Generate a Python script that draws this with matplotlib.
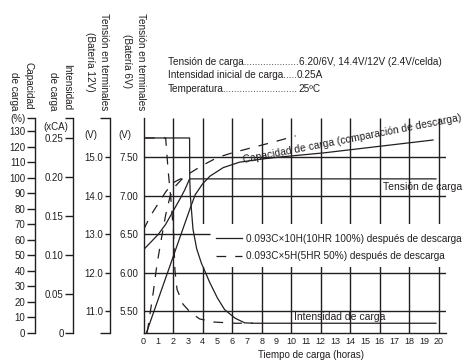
import matplotlib
matplotlib.use("Agg")
import matplotlib.pyplot as plt
from matplotlib.lines import Line2D
from matplotlib.patches import Rectangle

plt.rcParams['font.family'] = ['Liberation Sans', 'DejaVu Sans']
plt.rcParams['lines.scale_dashes'] = False

INK = '#231f20'
DASH = (0, (7, 6.5))

# ejes
horas = list(range(0, 21))
cap_ticks = [0, 10, 20, 30, 40, 50, 60, 70, 80, 90, 100, 110, 120, 130]
cur_ticks = [0, 0.05, 0.10, 0.15, 0.20, 0.25]
cur_labels = ['0', '0.05', '0.10', '0.15', '0.20', '0.25']
v12_ticks = [11.0, 12.0, 13.0, 14.0, 15.0]
v6_ticks = [5.50, 6.00, 6.50, 7.00, 7.50]

# 100% descarga (linea continua)
t_v100 = [0, 0.5, 1.0, 1.5, 2.0, 2.5, 2.8, 3.12, 19.8]
v_100 = [6.30, 6.40, 6.50, 6.63, 6.80, 6.97, 7.08, 7.22, 7.22]
t_i100 = [0.1, 3.12, 3.13, 3.17, 3.35, 3.6, 3.91, 4.48, 5.0, 5.49, 6.2, 6.85, 7.5, 19.8]
i_100 = [0.25, 0.25, 0.198, 0.176, 0.133, 0.108, 0.090, 0.065, 0.045, 0.030, 0.019, 0.013, 0.0125, 0.0125]
t_c100 = [0.2, 3.15, 3.5, 4.0, 4.5, 5.4, 6.5, 8.0, 9.2, 12.2, 15.5, 19.6]
c_100 = [0, 80, 89, 96, 101, 106.5, 110, 112, 113.3, 116, 119.7, 124.3]

# 50% descarga (linea discontinua)
t_v50 = [0, 0.5, 1.0, 1.5, 2.0, 2.5, 3.12]
v_50 = [6.56, 6.75, 6.90, 7.05, 7.17, 7.22, 7.22]
t_i50 = [0.1, 1.5, 1.52, 1.66, 1.86, 2.03, 2.13, 2.27, 2.67, 3.15, 3.8, 4.8, 6.2, 7.4]
i_50 = [0.25, 0.25, 0.245, 0.21, 0.17, 0.13, 0.08, 0.056, 0.037, 0.027, 0.018, 0.014, 0.0125, 0.0125]
t_c50 = [0.25, 0.66, 0.91, 1.2, 1.5, 1.8, 2.2, 2.7, 3.15, 4.0, 5.0, 6.0, 7.0, 8.0, 9.0, 10.3]
c_50 = [0, 26, 44, 60, 76, 88, 95, 100, 103, 108, 113, 116, 118.5, 121, 123.5, 127]

W, H = 466, 362
def fx(px): return px / W
def fy(py): return 1 - py / H

fig = plt.figure(figsize=(W / 100, H / 100), dpi=100)
ax = fig.add_axes([fx(143.5), fy(333), (446 - 143.5) / W, (333 - 118) / H])
ax.set_xlim(0, 20.48)
ax.set_ylim(5.22, 8.01)
for s in ['top', 'right']:
    ax.spines[s].set_visible(False)
for s in ['left', 'bottom']:
    ax.spines[s].set_color(INK)
    ax.spines[s].set_linewidth(1.0)
ax.set_xticks(horas)
ax.set_xticklabels([str(h) for h in horas])
ax.set_yticks(v6_ticks)
ax.set_yticklabels(['%.2f' % v for v in v6_ticks])
ax.tick_params(axis='x', length=0, labelsize=6.5, pad=3, colors=INK)
ax.tick_params(axis='y', length=0, labelsize=7, pad=4, colors=INK)

# rejilla
ax.vlines(range(2, 21, 2), 5.22, 8.01, color=INK, lw=1.0, zorder=1)
ax.hlines([5.5, 6.0, 7.0, 7.5], 0, 20.48, color=INK, lw=1.0, zorder=3)
ax.hlines([6.5], 0, 4.5, color=INK, lw=1.0, zorder=3)
ax.add_patch(Rectangle((3.98, 6.08), 20.48 - 3.98, 0.55, facecolor='white',
                       edgecolor='none', zorder=2))

ax.plot(t_v100, v_100, color=INK, lw=0.9, zorder=4)
ax.plot(t_v50, v_50, color=INK, lw=0.9, ls=DASH, zorder=4)


def side_axis(pos, lim):
    a = ax.twinx()
    a.set_ylim(*lim)
    for s in ['top', 'right', 'bottom']:
        a.spines[s].set_visible(False)
    a.spines['left'].set_visible(True)
    a.spines['left'].set_position(('axes', pos))
    a.spines['left'].set_color(INK)
    a.spines['left'].set_linewidth(1.0)
    a.yaxis.set_ticks_position('left')
    a.yaxis.set_label_position('left')
    a.tick_params(axis='y', direction='out', colors=INK, labelsize=7, width=1.0)
    return a


cap_ax = side_axis(-108.5 / 302.5, (-0.2, 138.5))
cap_ax.set_yticks(cap_ticks + [138.5])
cap_ax.set_yticklabels([str(c) for c in cap_ticks] + ['(%)'])
cap_ax.tick_params(axis='y', length=5.5, pad=1.5)

cur_ax = side_axis(-70.2 / 302.5, (0, 0.2756))
cur_ax.set_yticks(cur_ticks + [0.2756])
cur_ax.set_yticklabels(cur_labels + [''])
cur_ax.tick_params(axis='y', length=5.5, pad=1.5)

v12_ax = side_axis(-33.5 / 302.5, (10.44, 16.02))
v12_ax.set_yticks(v12_ticks)
v12_ax.set_yticklabels(['%.1f' % v for v in v12_ticks])
v12_ax.set_yticks([10.44, 16.02], minor=True)
v12_ax.tick_params(axis='y', which='major', length=3.6, pad=1.5)
v12_ax.tick_params(axis='y', which='minor', length=7, width=1.0, direction='out', colors=INK)

cur_ax.plot(t_i100, i_100, color=INK, lw=0.9, zorder=4)
cur_ax.plot(t_i50, i_50, color=INK, lw=0.9, ls=DASH, zorder=4)
cap_ax.plot(t_c100, c_100, color=INK, lw=0.9, zorder=4)
cap_ax.plot(t_c50, c_50, color=INK, lw=0.9, ls=DASH, zorder=4)

# titulos de ejes
fs = 7.2
fig.text(fx(21), fy(110), 'Capacidad\nde carga', rotation=-90, ha='center', va='bottom',
         multialignment='right', fontsize=fs, linespacing=1.5, color=INK)
fig.text(fx(60), fy(110), 'Intensidad\nde carga', rotation=-90, ha='center', va='bottom',
         multialignment='right', fontsize=fs, linespacing=1.5, color=INK)
fig.text(fx(97), fy(110), 'Tensión en terminales\n(Batería 12V)', rotation=-90, ha='center',
         va='bottom', multialignment='center', fontsize=fs, linespacing=1.5, color=INK)
fig.text(fx(134), fy(110), 'Tensión en terminales\n(Batería 6V)', rotation=-90, ha='center',
         va='bottom', multialignment='center', fontsize=fs, linespacing=1.5, color=INK)
fig.text(fx(55.5), fy(126.5), '(xCA)', ha='center', va='center', fontsize=7, color=INK)
fig.text(fx(91), fy(135), '(V)', ha='center', va='center', fontsize=7, color=INK)
fig.text(fx(125), fy(135), '(V)', ha='center', va='center', fontsize=7, color=INK)

fig.text(fx(311), fy(355), 'Tiempo de carga (horas)', ha='center', va='center', fontsize=7, color=INK)

# condiciones
renderer = fig.canvas.get_renderer()
info = [('Tensión de carga', '6.20/6V, 14.4V/12V (2.4V/celda)', 62),
        ('Intensidad inicial de carga', '0.25A', 75.5),
        ('Temperatura', '25ºC', 89)]
for lab, val, py in info:
    t = fig.text(fx(168), fy(py), lab, ha='left', va='center', fontsize=7.2, color=INK)
    while t.get_window_extent(renderer).x1 < 297:
        t.set_text(t.get_text() + '.')
    fig.text(t.get_window_extent(renderer).x1 / W, fy(py), val, ha='left', va='center',
             fontsize=7.2, color=INK)

fig.text(fx(243), fy(160), 'Capacidad de carga (comparación de descarga)', rotation=11,
         rotation_mode='anchor', ha='left', va='center', fontsize=7.5, color=INK)
fig.text(fx(383), fy(187), 'Tensión de carga', ha='left', va='center', fontsize=7.5, color=INK)
fig.text(fx(294), fy(316.5), 'Intensidad de carga', ha='left', va='center', fontsize=7.5, color=INK)

handles = [Line2D([], [], color=INK, lw=0.9),
           Line2D([], [], color=INK, lw=0.9, ls=DASH)]
labels = ['0.093C×10H(10HR 100%) después de descarga',
          '0.093C×5H(5HR 50%) después de descarga']
fig.legend(handles, labels, loc='upper left', bbox_to_anchor=(fx(216), fy(233.5)),
           frameon=False, fontsize=7.2, handlelength=2.6, handletextpad=0.35,
           borderpad=0, borderaxespad=0, labelspacing=0.75, labelcolor=INK)

fig.savefig('out.png', dpi=100)
